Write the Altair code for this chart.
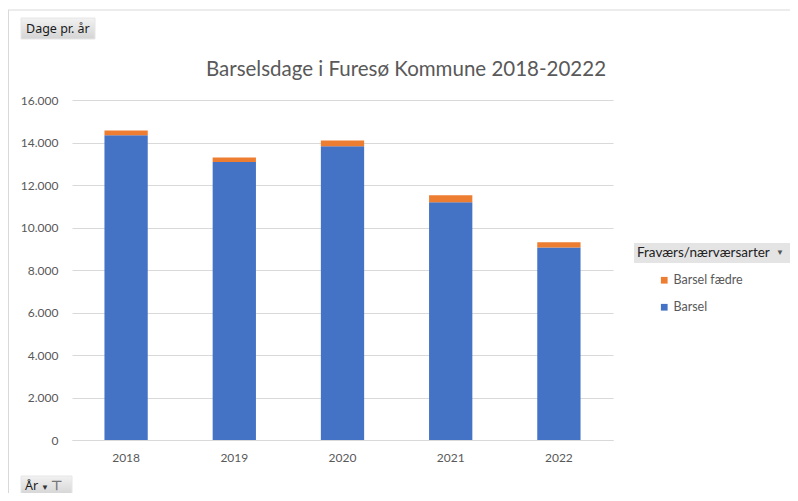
import altair as alt
import pandas as pd

years = ["2018", "2019", "2020", "2021", "2022"]
barsel = [14340, 13080, 13820, 11190, 9060]
barsel_faedre = [230, 220, 280, 330, 250]
series = ["Barsel fædre", "Barsel"]
colors = ["#ED7D31", "#4472C4"]

rows = []
for y, b, f in zip(years, barsel, barsel_faedre):
    rows.append({"År": y, "Art": "Barsel", "Dage": b, "ord": 0})
    rows.append({"År": y, "Art": "Barsel fædre", "Dage": f, "ord": 1})
df = pd.DataFrame(rows)

FONT = "Lato"
W, H = 541, 340

bars = alt.Chart(df).mark_bar().encode(
    x=alt.X("År:N", sort=years,
            scale=alt.Scale(paddingInner=0.6, paddingOuter=0.3),
            axis=alt.Axis(title=None, labelAngle=0, ticks=False, domainColor="#d9d9d9",
                          labelColor="#595959", labelFont=FONT, labelFontSize=12,
                          labelPadding=12, grid=False)),
    y=alt.Y("Dage:Q", stack="zero",
            scale=alt.Scale(domain=[0, 16000], nice=False),
            axis=alt.Axis(title=None, values=list(range(0, 16001, 2000)), domain=False,
                          ticks=False, gridColor="#d9d9d9", labelColor="#595959",
                          labelFont=FONT, labelFontSize=12, labelPadding=14,
                          labelExpr="replace(format(datum.value, ','), ',', '.')")),
    color=alt.Color("Art:N", scale=alt.Scale(domain=series, range=colors),
                    legend=alt.Legend(title=None, orient="none", legendX=586, legendY=174,
                                      symbolType="square", symbolSize=45,
                                      symbolStrokeWidth=0, labelOffset=3,
                                      labelFont=FONT, labelFontSize=12.5,
                                      labelColor="#595959", rowPadding=14)),
    order=alt.Order("ord:Q", sort="ascending"),
)

one = pd.DataFrame({"a": [0]})

title = alt.Chart(one).mark_text(font=FONT, fontSize=20.5, color="#595959",
                                 align="center", baseline="middle").encode(
    x=alt.value(334), y=alt.value(-30), text=alt.value("Barselsdage i Furesø Kommune 2018-20222"))

frame_top = alt.Chart(one).mark_rule(color="#d9d9d9", strokeWidth=1).encode(
    x=alt.value(-64), x2=alt.value(730), y=alt.value(-90))
frame_left = alt.Chart(one).mark_rule(color="#d9d9d9", strokeWidth=1).encode(
    x=alt.value(-63.5), y=alt.value(-90), y2=alt.value(410))

grad = alt.LinearGradient(gradient="linear", x1=0, x2=0, y1=0, y2=1,
                          stops=[alt.GradientStop(color="#f2f2f2", offset=0),
                                 alt.GradientStop(color="#d4d4d4", offset=1)])

btn1 = alt.Chart(one).mark_rect(fill=grad, stroke="#e6e6e6").encode(
    x=alt.value(-51), x2=alt.value(23), y=alt.value(-82), y2=alt.value(-61))
btn1t = alt.Chart(one).mark_text(font="Noto Sans", fontSize=12.5, color="#1a1a1a",
                                 align="left", baseline="middle").encode(
    x=alt.value(-46), y=alt.value(-71.5), text=alt.value("Dage pr. år"))

btn2 = alt.Chart(one).mark_rect(fill=grad, stroke="#e6e6e6").encode(
    x=alt.value(-51), x2=alt.value(0), y=alt.value(376), y2=alt.value(395))
btn2t = alt.Chart(one).mark_text(font="Noto Sans", fontSize=12.5, color="#1a1a1a",
                                 align="left", baseline="middle").encode(
    x=alt.value(-47), y=alt.value(385.5), text=alt.value("År"))
btn2a = alt.Chart(one).mark_text(fontSize=8, color="#333333",
                                 align="left", baseline="middle").encode(
    x=alt.value(-31), y=alt.value(388), text=alt.value("▼"))
btn2f = alt.Chart(one).mark_text(fontSize=13, color="#777777", fontWeight="bold",
                                 align="left", baseline="middle").encode(
    x=alt.value(-21), y=alt.value(385.5), text=alt.value("⊤"))

hdr = alt.Chart(one).mark_rect(fill="#e4e4e4").encode(
    x=alt.value(562), x2=alt.value(719), y=alt.value(143), y2=alt.value(163))
hdrt = alt.Chart(one).mark_text(font=FONT, fontSize=13.5, color="#222222",
                                align="left", baseline="middle").encode(
    x=alt.value(565), y=alt.value(153), text=alt.value("Fraværs/nærværsarter"))
hdra = alt.Chart(one).mark_text(fontSize=8, color="#555555",
                                align="center", baseline="middle").encode(
    x=alt.value(708), y=alt.value(153), text=alt.value("▼"))

chart = alt.layer(frame_top, frame_left, bars, title, btn1, btn1t, btn2, btn2t, btn2a,
                  btn2f, hdr, hdrt, hdra).properties(
    width=W, height=H,
    autosize=alt.AutoSizeParams(type="none"),
    padding={"left": 64, "top": 92, "right": 177, "bottom": 53},
).configure(background="white").configure_view(strokeWidth=0, strokeOpacity=0)

chart.save("out.html", embed_options={"renderer": "svg", "actions": False})
